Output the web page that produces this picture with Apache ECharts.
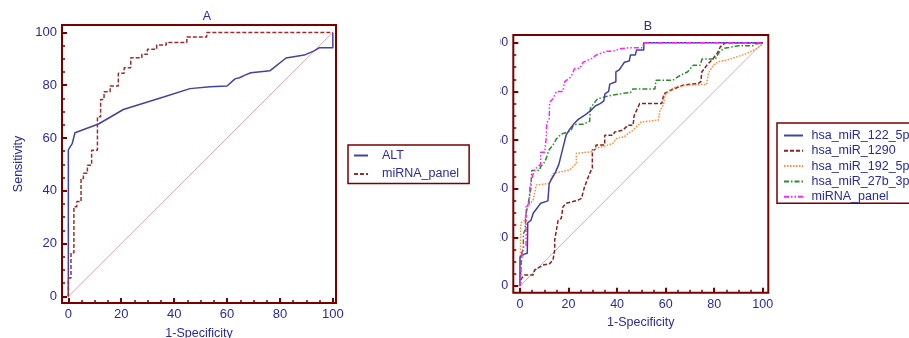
<!DOCTYPE html>
<html>
<head>
<meta charset="utf-8">
<script src="https://cdn.jsdelivr.net/npm/echarts@6/dist/echarts.min.js"></script>
<style>
html, body { margin: 0; padding: 0; background: #fff; }
#chart { width: 909px; height: 338px; }
</style>
</head>
<body>
<div id="chart"></div>
<script>
// tick values shared by both panels
var majorTicks = [0, 20, 40, 60, 80, 100];
var minorTicks = [5, 10, 15, 25, 30, 35, 45, 50, 55, 65, 70, 75, 85, 90, 95];

// panel A : ROC points [1-specificity, sensitivity]
var altA = [[0,0],[0,55.5],[1.5,58],[2.5,62],[11.4,65.3],[20.8,70.8],[36,75.5],[46,78.7],[53.6,79.4],[60,79.7],[63,82.4],[64.7,82.8],[66.8,83.8],[69,84.7],[76.3,85.5],[82.3,90.3],[89.2,91.4],[92.7,92.9],[95,94.2],[100,94.2],[100,100]];
var panelA = [[0,0],[0,7],[1,16.5],[2.1,34],[3.2,35.9],[4.8,44.7],[5.7,46.6],[7.2,49.7],[8.8,55.4],[11,68],[12.2,74.6],[13.5,77.5],[15.8,79.7],[18.9,84.5],[21.1,86.6],[23.6,90.4],[27.8,91.7],[29.9,93.6],[33.4,95.2],[37,96.2],[44.8,98.3],[52.3,100],[100,100]];

// panel B
var mir122 = [[0,0],[0,12],[1.5,13],[3,13.5],[3.2,26],[4.5,27],[5.5,30],[7,32],[8.5,34],[11.5,35],[12,35],[12,42],[13,44],[14.5,46.5],[16,50],[17,54],[18,58],[19,62],[20.5,64.5],[22.5,67],[24,68.5],[27,70.5],[29,72],[31,74],[33,75],[34.5,76],[35,79],[36.5,80],[37,83],[39.5,84],[39.5,88],[41,89],[42,90.5],[43,92],[45,92.5],[45.5,95],[47.5,95],[48,97],[51,97],[51,100],[100,100]];
var mir1290 = [[0,0],[0.5,3],[1.9,4.5],[5.4,4.5],[6,6.6],[9.5,8.6],[12.2,9.2],[13.6,10.7],[14.3,15],[14.3,19],[15.7,27],[17,27.8],[17.7,32.6],[19.1,34],[23.9,35.3],[25.3,36],[26.6,40.8],[28.7,46.3],[29.8,48.5],[29.8,56],[30.8,56],[31.4,58],[34.9,58],[34.9,62],[38.3,62],[39,63.3],[42.4,64.1],[44.5,66.1],[46.6,66.1],[47,70],[49.3,75],[58.4,75],[59.3,79],[61.1,80],[64.5,81.5],[67.3,82.6],[73.5,83.3],[74.5,84],[74.9,88],[77,90.8],[79.1,93],[81.2,95.6],[82.6,98.4],[84.6,100],[100,100]];
var mir192 = [[0,0],[0.3,25],[0.5,26],[1.9,27],[3.3,33],[5.4,35.3],[6.7,41.5],[12.2,42.2],[13.6,46.3],[20.5,47.7],[23.2,50.4],[23.2,54.5],[29.4,55.2],[30.8,56.6],[34.2,57.3],[38.3,58.7],[39.7,60.7],[43.1,61.4],[44.5,62.7],[46.6,64.1],[50,67.5],[51.5,67.6],[57,68.2],[57.7,72.3],[59.1,74.4],[59.7,78.5],[61.8,80.6],[64.5,82],[70,82.6],[76.9,82.9],[77.6,87.4],[79.6,90.8],[81.7,92.2],[85.2,92.9],[89.3,94.2],[93.4,95.6],[97.5,97.6],[99.5,99],[100,100]];
var mir27b = [[0,0],[0.5,10],[0.7,13.5],[1.4,15.5],[1.4,21.5],[2.1,23],[2.5,30],[3.4,34],[4.1,38],[4.5,40],[4.8,47.5],[8,47.5],[8.5,49],[10.2,51],[11,53],[12,56],[13.6,58],[15,60.5],[17,62.5],[19.8,63.3],[21,64],[21.8,65.7],[23.2,66.5],[26,66.5],[28.7,67.7],[29,73],[30,74.5],[32,77],[35,77.8],[38.3,78.5],[42.4,79.2],[45.5,79.5],[46.5,81],[55.6,81],[56,84.6],[63,84.6],[65,86],[67.3,87.3],[69,88],[71.4,90.8],[74.2,90.8],[75,93.3],[80.5,93.3],[82,96],[84,97.7],[90,98.8],[96,98.8],[97,99.5],[100,100]];
var panelB = [[0,0],[0.5,8],[0.7,12],[1.4,16],[2.5,16.5],[2.5,33],[3.8,34],[4.1,41],[4.8,44],[6,48],[8.5,50],[8.5,55],[10.2,55],[10.8,61],[11,67],[12,68.5],[12.2,75.5],[13.6,77],[14.3,77.8],[15,80],[17.7,80],[18.4,84],[21,86],[22.5,89.4],[24.6,89.5],[26,92],[29.4,93.5],[31.5,95],[35.6,96.5],[38.3,96.5],[41,97.5],[45,98],[50.5,98],[51,100],[100,100]];
var refLine = [[0,0],[100,100]];

var namesA = ['ALT', 'miRNA_panel'];
var namesB = ['hsa_miR_122_5p', 'hsa_miR_1290', 'hsa_miR_192_5p', 'hsa_miR_27b_3p', 'miRNA_panel '];

var maroon = '#7a0000';
var txt = '#2a2aa0';
var font = 'Liberation Sans';

// main axis: big ticks + labels, second axis on the same side: small ticks only
function axisPair(dim, grid, min, max, size, name, gap) {
    var side = dim == 'x' ? 'bottom' : 'left';
    var main = {
        gridIndex: grid, type: 'value', min: min, max: max, position: side,
        name: name, nameLocation: 'middle', nameGap: gap,
        nameTextStyle: { color: txt, fontSize: 12.5, fontFamily: font },
        axisLine: { show: false, onZero: false },
        axisTick: { inside: true, length: 5, customValues: majorTicks, lineStyle: { color: maroon, width: 2 } },
        splitLine: { show: false },
        axisLabel: { color: txt, fontSize: size, fontFamily: font, margin: 5, customValues: majorTicks }
    };
    var minor = {
        gridIndex: grid, type: 'value', min: min, max: max, position: side,
        axisLine: { show: false, onZero: false },
        axisTick: { inside: true, length: 3, customValues: minorTicks, lineStyle: { color: maroon, width: 1.5 } },
        splitLine: { show: false },
        axisLabel: { show: false }
    };
    return [main, minor];
}
function curve(name, data, axis, color, dash) {
    return {
        name: name, type: 'line', data: data, xAxisIndex: axis, yAxisIndex: axis,
        symbol: 'none', animation: false,
        lineStyle: { color: color, width: 1.5, type: dash },
        itemStyle: { color: color }
    };
}
function diagonal(axis) {
    return { type: 'line', data: refLine, xAxisIndex: axis, yAxisIndex: axis, symbol: 'none', silent: true, lineStyle: { color: '#dcaaaa', width: 1 } };
}

var chart = echarts.init(document.getElementById('chart'));
var dashed = [4, 2];
var dotted = [1.5, 1.5];
var dashDot = [5, 2, 1.5, 2];
var dashDotDot = [5, 2, 1.5, 2, 1.5, 2];

var stepA = curve(namesA[1], panelA, 0, '#9a2e2e', dashed);
stepA.step = 'end';

var xs = axisPair('x', 0, -2.4, 101.2, 13, '1-Specificity', 24).concat(axisPair('x', 1, -2.76, 102.3, 12.5, '1-Specificity', 20));
var ys = axisPair('y', 0, -2.5, 102.8, 13, 'Sensitivity', 37).concat(axisPair('y', 1, -2.75, 103.2, 12.5, '', 37));

var legendBase = {
    orient: 'vertical', borderColor: maroon, borderWidth: 1.5, itemHeight: 12,
    selectedMode: false, itemStyle: { opacity: 0 }
};

var option = {
    backgroundColor: '#fff',
    animation: false,
    title: [
        { text: 'A', left: 202, top: 5, textAlign: 'center', textStyle: { color: txt, fontSize: 12.5, fontWeight: 'normal', fontFamily: font } },
        { text: 'B', left: 643, top: 15, textAlign: 'center', textStyle: { color: txt, fontSize: 12.5, fontWeight: 'normal', fontFamily: font } }
    ],
    grid: [
        { left: 62, top: 25, width: 274, height: 278, show: true, borderColor: maroon, borderWidth: 2, outerBoundsMode: 'none' },
        { left: 513.3, top: 35, width: 255, height: 257.7, show: true, borderColor: maroon, borderWidth: 2, outerBoundsMode: 'none' }
    ],
    xAxis: xs,
    yAxis: ys,
    legend: [
        Object.assign({}, legendBase, {
            data: namesA, left: 348, top: 145, padding: [4, 10, 3, 5],
            itemWidth: 14, itemGap: 5.5,
            textStyle: { color: txt, fontSize: 12.5, fontFamily: font, padding: [0, 0, 0, 9] }
        }),
        Object.assign({}, legendBase, {
            data: namesB, left: 777, top: 123, padding: [6, 12, 0, 6],
            itemWidth: 19, itemGap: 2.3,
            textStyle: { color: txt, fontSize: 12.5, fontFamily: font, padding: [0, 0, 0, 3.5] }
        })
    ],
    // the B panel was cut on its left side in the original figure
    graphic: [
        { type: 'rect', shape: { x: 472, y: 30, width: 28.5, height: 272 }, style: { fill: '#fff' }, z: 100 }
    ],
    series: [
        diagonal(0),
        curve(namesA[0], altA, 0, '#4242a4', 'solid'),
        stepA,
        diagonal(2),
        curve(namesB[1], mir1290, 2, '#8e1f1f', dashed),
        curve(namesB[2], mir192, 2, '#ff8a3a', dotted),
        curve(namesB[3], mir27b, 2, '#2f8a2f', dashDot),
        curve(namesB[0], mir122, 2, '#4242a4', 'solid'),
        curve(namesB[4], panelB, 2, '#ff22ff', dashDotDot)
    ]
};
chart.setOption(option);
</script>
</body>
</html>
